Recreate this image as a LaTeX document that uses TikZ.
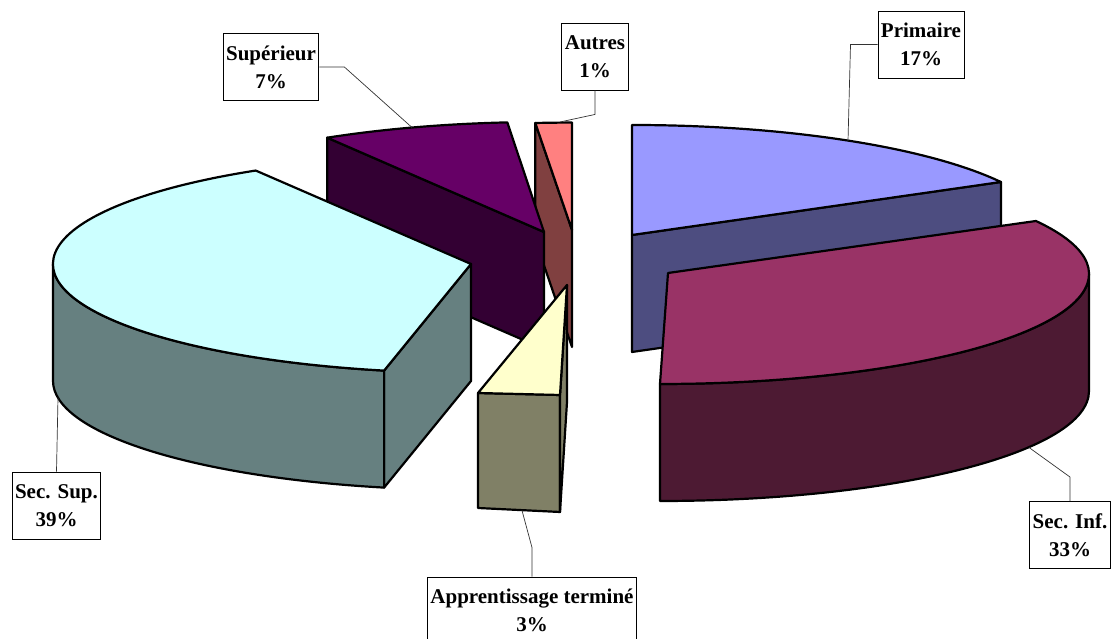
\documentclass[tikz,border=0pt]{standalone}
\usepackage{fontspec}
\setmainfont{Liberation Serif}
\definecolor{priT}{HTML}{9999FF}
\definecolor{priS}{HTML}{4D4D80}
\definecolor{siT}{HTML}{993366}
\definecolor{siS}{HTML}{4D1A33}
\definecolor{apT}{HTML}{FFFFCC}
\definecolor{apS}{HTML}{808066}
\definecolor{ssT}{HTML}{CCFFFF}
\definecolor{ssS}{HTML}{668080}
\definecolor{supT}{HTML}{660066}
\definecolor{supS}{HTML}{330033}
\definecolor{autT}{HTML}{FF8080}
\definecolor{autS}{HTML}{804040}
\begin{document}
\begin{tikzpicture}[x=1pt,y=1pt,
  slice/.style={draw=black, line width=2.2pt, line join=round},
  lbl/.style={draw=black, line width=0.9pt, fill=white, font=\fontsize{21}{28}\selectfont\bfseries, align=center, minimum height=67pt, inner xsep=3pt, inner ysep=2pt},
  leader/.style={draw=black!80, line width=0.7pt}]
\useasboundingbox (0,0) rectangle (1111,639);

% Primaire
\path[slice, fill=priS] (632,404) -- (1000.9,457) -- (1000.9,340) -- (632,287) -- cycle;
\path[slice, fill=priT] (632,404) -- (632,514) arc[start angle=90, end angle=28.8, x radius=421pt, y radius=110pt] -- cycle;

% Autres
\path[slice, fill=autS] (572,409) -- (535.3,516) -- (535.3,399) -- (572,292) -- cycle;
\path[slice, fill=autT] (572,409) -- (535.3,516) arc[start angle=95, end angle=90, x radius=421pt, y radius=107pt] -- cycle;

% Superieur
\path[slice, fill=supS] (544,407) -- (327.2,501.3) -- (327.2,384.3) -- (544,290) -- cycle;
\path[slice, fill=supT] (544,407) -- (327.2,501.3) arc[start angle=121, end angle=95, x radius=421pt, y radius=110pt] -- cycle;

% Sec. Sup.
\path[slice, fill=ssS] (471,375) -- (384.1,268.4) -- (384.1,151.4) -- (471,258) -- cycle;
\path[slice, fill=ssS] (384.1,268.4) arc[start angle=258, end angle=180, x radius=418pt, y radius=109pt] -- ++(0,-117) arc[start angle=180, end angle=258, x radius=418pt, y radius=109pt] -- cycle;
\path[slice, fill=ssT] (471,375) -- (384.1,268.4) arc[start angle=258, end angle=121, x radius=418pt, y radius=109pt] -- cycle;

% Apprentissage
\path[slice, fill=apS] (478,246) -- (560,244) -- (560,127) -- (478,131) -- cycle;
\path[slice, fill=apS] (567,354) -- (560,244) -- (560,127) -- (567,237) -- cycle;
\path[slice, fill=apT] (567,354) -- (478,246) -- (560,244) -- cycle;

% Sec. Inf.
\path[slice, fill=siS] (1089,365) arc[start angle=0, end angle=-90, x radius=429pt, y radius=110pt] -- ++(0,-117) arc[start angle=-90, end angle=0, x radius=429pt, y radius=110pt] -- cycle;
\path[slice, fill=siT] (668,366) -- (1035.9,418) arc[start angle=28.8, end angle=-90, x radius=429pt, y radius=110pt] -- cycle;

% labels
\node[lbl] (lsup) at (271,572) {Supérieur\\7\%};
\coordinate (esup) at (412,511.5);
\draw[leader] (lsup.east) -- ++(25,0) -- (esup);

\node[lbl] (laut) at (595,582.5) {Autres\\1\%};
\coordinate (eaut) at (560,517);
\draw[leader] (laut.south) -- ++(0,-24) -- (eaut);

\node[lbl] (lpri) at (921,594.5) {Primaire\\17\%};
\coordinate (epri) at (848,498);
\draw[leader] (lpri.west) -- ++(-27,0) -- (epri);

\node[lbl] (lss) at (56.5,133.5) {Sec. Sup.\\39\%};
\coordinate (ess) at (58,241);
\draw[leader] (lss.north) -- (ess);

\node[lbl] (lapp) at (532,28.5) {Apprentissage terminé\\3\%};
\coordinate (eapp) at (522,128.5);
\draw[leader] (lapp.north) -- ++(0,29) -- (eapp);

\node[lbl] (lsi) at (1070,104) {Sec. Inf.\\33\%};
\coordinate (esi) at (1029,191.5);
\draw[leader] (lsi.north) -- ++(0,24) -- (esi);
\end{tikzpicture}
\end{document}
